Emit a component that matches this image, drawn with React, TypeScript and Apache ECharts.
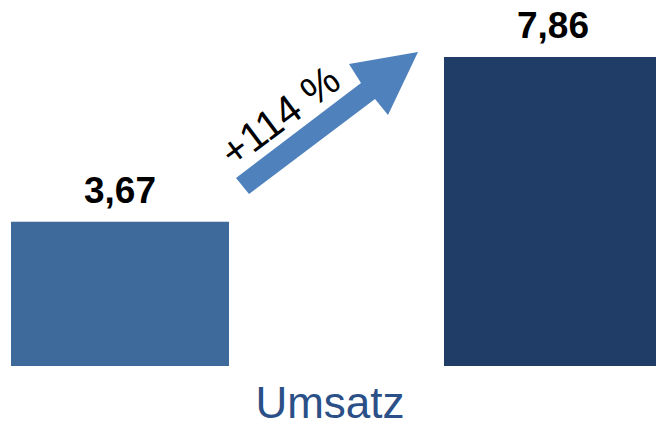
import React, { useEffect, useRef } from "react";
import * as echarts from "echarts";

const categories = ["Vorher", "Nachher"];
const values = [3.67, 7.86];
const barColors = ["#3E6A9B", "#1F3D66"];
const growthLabel = "+114 %";
const axisTitle = "Umsatz";

const FONT = "'Liberation Sans', Arial, sans-serif";

export default function App() {
  const ref = useRef<HTMLDivElement>(null);
  useEffect(() => {
    if (!ref.current) return;
    const chart = echarts.init(ref.current, undefined, { renderer: "svg" });
    chart.setOption({
      animation: false,
      backgroundColor: "#ffffff",
      grid: {
        left: -96.5,
        width: 866,
        top: 51.5,
        bottom: 60,
        containLabel: false,
        outerBoundsMode: "none",
      },
      xAxis: {
        type: "category",
        data: categories,
        axisLine: { show: false },
        axisTick: { show: false },
        axisLabel: { show: false },
      },
      yAxis: {
        type: "value",
        min: 0,
        max: 8,
        show: false,
        splitLine: { show: false },
      },
      series: [
        {
          type: "bar",
          barWidth: 218,
          data: values.map((v, i) => ({ value: v, itemStyle: { color: barColors[i] } })),
          label: {
            show: true,
            position: "top",
            distance: 13,
            fontFamily: FONT,
            fontWeight: "bold",
            fontSize: 37,
            color: "#000000",
            formatter: (p: any) => String(p.value.toFixed(2)).replace(".", ","),
          },
        },
      ],
      graphic: [
        {
          type: "polygon",
          shape: {
            points: [
              [236, 178],
              [361, 83],
              [349, 64],
              [418, 52],
              [388, 115],
              [375, 99],
              [249, 194],
            ],
          },
          style: { fill: "#4F81BD" },
        },
        {
          type: "text",
          x: 280,
          y: 116,
          rotation: (37 * Math.PI) / 180,
          style: {
            text: growthLabel,
            fontFamily: FONT,
            fontSize: 41,
            fill: "#000000",
            align: "center",
            verticalAlign: "middle",
          },
        },
        {
          type: "text",
          x: 330,
          y: 402,
          style: {
            text: axisTitle,
            fontFamily: FONT,
            fontSize: 44,
            fill: "#2A5087",
            align: "center",
            verticalAlign: "middle",
          },
        },
      ],
    });
    return () => chart.dispose();
  }, []);
  return <div ref={ref} style={{ width: 656, height: 426, position: "fixed", left: 0, top: 0 }} />;
}
